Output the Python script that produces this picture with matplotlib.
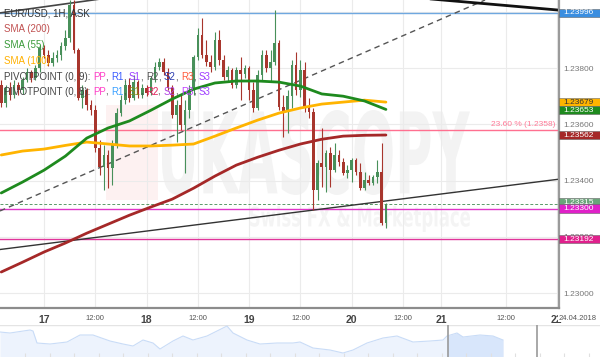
import matplotlib.pyplot as plt
import matplotlib.transforms as mtransforms
import numpy as np
from matplotlib.patches import Rectangle, PathPatch
from matplotlib.textpath import TextPath
from matplotlib.font_manager import FontProperties

plt.rcParams['font.family'] = ['Liberation Sans', 'DejaVu Sans']

# hourly candles, hour 0 = 17.04.2018 00:00
hours = np.arange(-10, 81)
closes = [1.23676, 1.23729, 1.23704, 1.23740, 1.23722, 1.23758, 1.23786, 1.23765, 1.23800, 1.23871,
          1.23846, 1.23818, 1.23836, 1.23846, 1.23878, 1.23907, 1.24024, 1.23864, 1.23694, 1.23722,
          1.23669, 1.23651, 1.23516, 1.23448, 1.23491, 1.23445, 1.23526, 1.23640, 1.23686, 1.23740,
          1.23694, 1.23750, 1.23704, 1.23729, 1.23711, 1.23765, 1.23804, 1.23822, 1.23786, 1.23729,
          1.23633, 1.23669, 1.23597, 1.23651, 1.23722, 1.23839, 1.23918, 1.23846, 1.23822, 1.23804,
          1.23900, 1.23829, 1.23768, 1.23793, 1.23740, 1.23793, 1.23779, 1.23800, 1.23722, 1.23658,
          1.23775, 1.23846, 1.23800, 1.23822, 1.23889, 1.23662, 1.23644, 1.23701, 1.23811, 1.23722,
          1.23793, 1.23658, 1.23644, 1.23366, 1.23462, 1.23448, 1.23498, 1.23437, 1.23491, 1.23466,
          1.23427, 1.23437, 1.23473, 1.23430, 1.23373, 1.23402, 1.23391, 1.23413, 1.23430, 1.23249,
          1.23315]
highs = [1.23758, 1.23740, 1.23750, 1.23758, 1.23750, 1.23768, 1.23800, 1.23793, 1.23811, 1.23882,
         1.23882, 1.23864, 1.23857, 1.23864, 1.23893, 1.23935, 1.24042, 1.24042, 1.23871, 1.23740,
         1.23729, 1.23686, 1.23669, 1.23544, 1.23526, 1.23509, 1.23544, 1.23658, 1.23704, 1.23758,
         1.23765, 1.23775, 1.23758, 1.23743, 1.23740, 1.23772, 1.23822, 1.23836, 1.23836, 1.23800,
         1.23740, 1.23686, 1.23704, 1.23686, 1.23740, 1.23846, 1.23942, 1.23978, 1.23900, 1.23846,
         1.23928, 1.23935, 1.23846, 1.23807, 1.23800, 1.23804, 1.23839, 1.23811, 1.23807, 1.23750,
         1.23793, 1.23864, 1.23864, 1.23864, 1.24006, 1.23900, 1.23704, 1.23722, 1.23829, 1.23857,
         1.23829, 1.23822, 1.23694, 1.23658, 1.23473, 1.23587, 1.23509, 1.23519, 1.23533, 1.23509,
         1.23480, 1.23455, 1.23480, 1.23480, 1.23462, 1.23430, 1.23420, 1.23420, 1.23473, 1.23533,
         1.23320]
lows = [1.23662, 1.23662, 1.23686, 1.23694, 1.23704, 1.23708, 1.23750, 1.23750, 1.23758, 1.23786,
        1.23836, 1.23807, 1.23807, 1.23822, 1.23829, 1.23864, 1.23893, 1.23854, 1.23686, 1.23658,
        1.23651, 1.23633, 1.23501, 1.23420, 1.23366, 1.23373, 1.23384, 1.23516, 1.23630, 1.23672,
        1.23679, 1.23686, 1.23694, 1.23694, 1.23701, 1.23704, 1.23750, 1.23793, 1.23775, 1.23722,
        1.23622, 1.23537, 1.23580, 1.23427, 1.23622, 1.23704, 1.23829, 1.23836, 1.23807, 1.23786,
        1.23793, 1.23811, 1.23758, 1.23750, 1.23729, 1.23729, 1.23686, 1.23765, 1.23686, 1.23644,
        1.23651, 1.23758, 1.23786, 1.23750, 1.23811, 1.23651, 1.23555, 1.23569, 1.23658, 1.23704,
        1.23697, 1.23644, 1.23622, 1.23295, 1.23331, 1.23377, 1.23359, 1.23377, 1.23430, 1.23452,
        1.23420, 1.23409, 1.23395, 1.23420, 1.23366, 1.23366, 1.23384, 1.23384, 1.23391, 1.23242,
        1.23231]
opens = [1.23740] + closes[:-1]

# moving averages, read every 5 hours
sma_hours = np.arange(-10, 81, 5)
sma55 = [1.23356, 1.23395, 1.23437, 1.23487, 1.23551, 1.23587, 1.23612, 1.23650, 1.23690, 1.23725,
         1.23747, 1.23754, 1.23754, 1.23750, 1.23736, 1.23708, 1.23700, 1.23683, 1.23653]
sma100 = [1.23491, 1.23505, 1.23512, 1.23525, 1.23537, 1.23530, 1.23523, 1.23523, 1.23526, 1.23530,
          1.23558, 1.23587, 1.23615, 1.23640, 1.23658, 1.23672, 1.23679, 1.23686, 1.23679]
sma200 = [1.23075, 1.23110, 1.23146, 1.23178, 1.23213, 1.23245, 1.23277, 1.23306, 1.23334, 1.23373,
          1.23416, 1.23455, 1.23483, 1.23508, 1.23530, 1.23547, 1.23558, 1.23561, 1.23562]

# drawn trend lines (hour, price) end points
trend_dashed = ([-10.3, 103.2], [1.23292, 1.24042])
trend_thin = ([-10.3, 120.5], [1.23155, 1.23405])
trend_top_right = ([88, 120.5], [1.24049, 1.24006])
trend_top_left = ([-10.3, 20], [1.23996, 1.24060])

fib_level = 1.2358
blue_level = 1.23996
last_price = 1.23315
pivot_a = 1.23300
pivot_b = 1.23192

x_ticks = [0, 12, 24, 36, 48, 60, 72, 84, 93, 108, 120]
x_labels = ['17', '12:00', '18', '12:00', '19', '12:00', '20', '12:00', '21', '12:00', '22']
y_ticks = [1.230, 1.232, 1.234, 1.236, 1.238, 1.240]

# navigator (overview) series
nav_pos = np.array([0, 10, 30, 33, 37, 50, 67, 80, 93, 110, 123, 133, 143, 153, 160, 173, 183, 193,
                    207, 217, 227, 233, 247, 260, 277, 293, 300, 313, 330, 343, 353, 367, 383, 397,
                    413, 430, 443, 447, 457, 463, 480, 493, 503])
nav_vals = np.array([1.2425, 1.2420, 1.2435, 1.2430, 1.2370, 1.2365, 1.2375, 1.2410, 1.2410, 1.2380,
                     1.2365, 1.2355, 1.2385, 1.2370, 1.2340, 1.2380, 1.2405, 1.2385, 1.2405, 1.2430,
                     1.2455, 1.2420, 1.2385, 1.2365, 1.2370, 1.2370, 1.2375, 1.2345, 1.2335, 1.2320,
                     1.2335, 1.2370, 1.2395, 1.2405, 1.2375, 1.2380, 1.2385, 1.2405, 1.2420, 1.2400,
                     1.2410, 1.2405, 1.2385])

W, H = 600, 357
fig = plt.figure(figsize=(6, 3.57), dpi=100)
ax = fig.add_axes([0, 49 / H, 559 / W, 308 / H])
ax.set_xlim(-10.3, 120.5)
ax.set_ylim(1.22947, 1.24042)
blend = mtransforms.blended_transform_factory(ax.transAxes, ax.transData)

for s in ['top', 'left']:
    ax.spines[s].set_visible(False)
ax.spines['right'].set_color('#9a9a9a')
ax.spines['right'].set_linewidth(1.6)
ax.spines['bottom'].set_color('#8c8c8c')
ax.spines['bottom'].set_linewidth(1.6)

ax.set_xticks(x_ticks)
ax.set_xticklabels(x_labels)
ax.yaxis.tick_right()
ax.set_yticks(y_ticks)
ax.yaxis.set_major_formatter('{x:.5f}')
ax.tick_params(axis='y', length=0, pad=3, labelsize=6, labelcolor='#777777')
ax.tick_params(axis='x', length=0, pad=5, labelcolor='#444444')
for lab in ax.get_xticklabels():
    if ':' in lab.get_text():
        lab.set_fontsize(5.5)
        lab.set_color('#555555')
    else:
        lab.set_fontsize(7.5)
        lab.set_fontweight('bold')
ax.grid(True, color='#ebebeb', lw=0.8)
ax.set_axisbelow(True)

# watermark
fp = FontProperties(family='DejaVu Sans', weight='bold')
def watermark(text, x0, x1, ytop, ybot, color):
    tp = TextPath((0, 0), text, prop=fp, size=1)
    bb = tp.get_extents()
    tr = (mtransforms.Affine2D().translate(-bb.x0, -bb.y0)
          .scale((x1 - x0) / bb.width, (ybot - ytop) / bb.height)
          .translate(x0, 308 - ybot).scale(1 / 559, 1 / 308) + ax.transAxes)
    ax.add_patch(PathPatch(tp, transform=tr, facecolor=color, lw=0, zorder=0.3))

ax.add_patch(Rectangle((106 / 559, 1 - 200 / 308), 52 / 559, 95 / 308, transform=ax.transAxes,
                       facecolor='#fdf1f1', lw=0, zorder=0.3))
watermark('UKASCOPY', 162, 470, 110, 195, '#f3f3f3')
watermark('Swiss FX & Marketplace', 250, 470, 206, 232, '#f4f4f4')

# horizontal levels
ax.axhline(blue_level, color='#6fa8e0', lw=1, zorder=2)
ax.axhline(fib_level, color='#ff7090', lw=1, zorder=2)
ax.axhline(last_price, color='#5a9a68', lw=0.7, ls=(0, (3, 2)), zorder=2)
ax.axhline(pivot_a, color='#e035c8', lw=1, zorder=2)
ax.axhline(pivot_b, color='#e0359a', lw=1, zorder=2)
ax.text(555 / 559, fib_level + 0.00008, '23.60 % (1.2358)', transform=blend, color='#ff7a98',
        fontsize=6, ha='right', va='bottom', zorder=2)

# trend lines
ax.plot(*trend_dashed, color='#555555', lw=1, ls=(0, (4, 3)), zorder=2)
ax.plot(*trend_thin, color='#333333', lw=1, zorder=2)
ax.plot(*trend_top_right, color='#111111', lw=2, zorder=2)
ax.plot(*trend_top_left, color='#444444', lw=1.2, zorder=2)

# candles
o = np.array(opens)
c = np.array(closes)
up = c >= o
col = np.where(up, '#48905a', '#a8362d')
ax.vlines(hours, lows, highs, colors=col, lw=0.8, zorder=3)
ax.bar(hours, np.maximum(np.abs(c - o), 0.00003), bottom=np.minimum(o, c), width=0.62,
       color=col, lw=0, zorder=3)

# moving averages
ax.plot(sma_hours, sma200, color='#a52828', lw=2, zorder=4, solid_capstyle='round')
ax.plot(sma_hours, sma100, color='#ffb400', lw=2, zorder=4, solid_capstyle='round')
ax.plot(sma_hours, sma55, color='#1e8a1e', lw=2, zorder=4, solid_capstyle='round')

# price boxes on the right scale
def price_box(p, fc, tc='white', shown=None, z=6):
    y = p if shown is None else shown
    ax.add_patch(Rectangle((1.0, y - 0.00015), 41 / 559, 0.0003, transform=blend, facecolor=fc,
                           edgecolor='#666666', lw=0.4, clip_on=False, zorder=z))
    ax.text(1.007, y, f'{p:.5f}', transform=blend, color=tc, fontsize=6, va='center',
            ha='left', zorder=z + 0.5, clip_on=False)

price_box(blue_level, '#3a8ee0')
price_box(1.23679, '#ffb400', '#333333')
price_box(1.23653, '#1e8a1e', shown=1.23650)
price_box(1.23562, '#a52828')
price_box(last_price, '#6aa57a', shown=1.23322, z=5)
price_box(pivot_a, '#e020c8', z=7)
price_box(pivot_b, '#e0208c')

# legend lines top left
def legend_line(parts, y_px):
    t = ax.text(4 / 559, 1 - y_px / 308, parts[0][0], color=parts[0][1], transform=ax.transAxes,
                fontsize=7, va='center', ha='left', zorder=8)
    for s, cc in parts[1:]:
        t = ax.annotate(s, xy=(1, 0), xycoords=t, color=cc, fontsize=7, va='bottom', ha='left',
                        zorder=8)

g = '#444444'
legend_line([('EUR/USD, 1H, ASK', '#333333')], 13)
legend_line([('SMA (200)', '#c05050')], 29)
legend_line([('SMA (55)', '#3a9a3a')], 45)
legend_line([('SMA (100)', '#ffb000')], 61)
legend_line([('PIVOTPOINT (0, 9): ', g), ('PP', '#ff40c8'), (', ', g), ('R1', '#3a5cff'), (', ', g),
             ('S1', '#9a3cff'), (', ', g), ('R2', '#555555'), (', ', g), ('S2', '#2c3cb0'), (', ', g),
             ('R3', '#ff5a3c'), (', ', g), ('S3', '#a03cff')], 77)
legend_line([('PIVOTPOINT (0, 8): ', g), ('PP', '#ff40c8'), (', ', g), ('R1', '#3aa0ff'), (', ', g),
             ('S1', '#8a8a1a'), (', ', g), ('R2', '#e0205a'), (', ', g), ('S2', '#b040e0'), (', ', g),
             ('R3', '#c040ff'), (', ', g), ('S3', '#a040ff')], 92)

# date stamp at the end of the time scale
ax.text(597 / 559, -0.033, '24.04.2018', transform=ax.transAxes, fontsize=5.5, color='#555555',
        ha='right', va='center', clip_on=False, zorder=7,
        bbox=dict(boxstyle='square,pad=0.1', fc='white', ec='none'))

# navigator
nav = fig.add_axes([0, 0, 1, 32 / H])
nav.set_xlim(0, 600)
nav.set_ylim(1.2300, 1.2460)
nav.axis('off')
nav.axhline(1.2460, color='#e4e4e4', lw=1)
nav.vlines(np.arange(25, 600, 24.5), 1.2300, 1.2320, color='#e0e0e0', lw=0.8)
nav.fill_between(nav_pos, nav_vals, 1.2300, color='#edf3fd', lw=0)
sel = nav.fill_between(nav_pos, nav_vals, 1.2300, color='#d8e6fb', lw=0)
clip = Rectangle((448, 1.2300), 89, 0.0160, transform=nav.transData)
sel.set_clip_path(clip)
nav.plot(nav_pos, nav_vals, color='#c9dcf7', lw=0.8)
nav.axvline(448, color='#9a9a9a', lw=1.2)
nav.axvline(537, color='#9a9a9a', lw=1.2)

fig.savefig('out.png', dpi=100)
